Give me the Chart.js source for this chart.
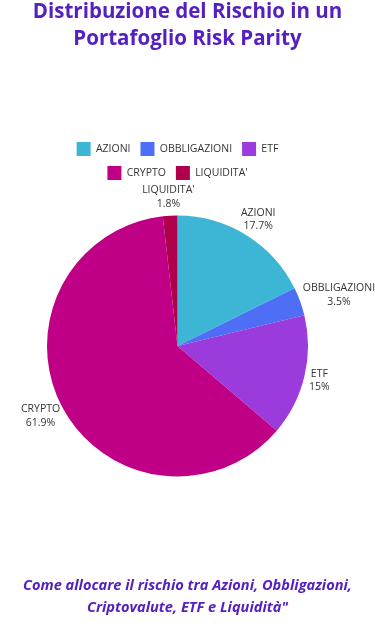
<!DOCTYPE html>
<html lang="it">
<head>
    <meta charset="UTF-8">
    <meta name="viewport" content="width=device-width, initial-scale=1.0">
    <title>Rischio Risk Parity</title>
    <script src="https://cdn.jsdelivr.net/npm/chart.js"></script>
    <style>
        html, body { margin: 0; padding: 0; background: #fff; }
        #wrap { position: relative; width: 375px; height: 637px; overflow: hidden; }
        #chartBox { position: absolute; left: 0; top: 0; width: 375px; height: 637px; }
        .heading {
            position: absolute; left: 0; width: 375px; margin: 0;
            text-align: center; color: #5420c0; font-family: 'Open Sans', sans-serif; font-weight: bold;
        }
        #title { top: -3px; font-size: 20.5px; line-height: 27px; }
        #subtitle { top: 573px; font-size: 14.6px; line-height: 22px; font-style: italic; }
    </style>
</head>
<body>
    <div id="wrap">
        <div id="chartBox"><canvas id="riskChart"></canvas></div>
        <h1 id="title" class="heading">Distribuzione del Rischio in un<br>Portafoglio Risk Parity</h1>
        <p id="subtitle" class="heading">Come allocare il rischio tra Azioni, Obbligazioni,<br>Criptovalute, ETF e Liquidità"</p>
    </div>

    <script>
        const categories = ['AZIONI', 'OBBLIGAZIONI', 'ETF', 'CRYPTO', "LIQUIDITA'"];
        const riskShares = [17.7, 3.5, 15, 61.9, 1.8];
        const sliceColors = ['#3db5d5', '#4d6ef5', '#9b3bdc', '#bf0087', '#b0004c'];

        // labels outside each slice, like datalabels anchor/align 'end'
        const outsideLabels = {
            id: 'outsideLabels',
            afterDatasetsDraw(chart) {
                const ctx = chart.ctx;
                const meta = chart.getDatasetMeta(0);
                ctx.save();
                ctx.font = '10.5px "Open Sans", sans-serif';
                ctx.fillStyle = '#333';
                ctx.textAlign = 'center';
                ctx.textBaseline = 'middle';
                const lineH = 13.5;
                meta.data.forEach((arc, i) => {
                    const p = arc.getProps(['x', 'y', 'startAngle', 'endAngle', 'outerRadius'], true);
                    const mid = (p.startAngle + p.endAngle) / 2;
                    const dx = Math.cos(mid), dy = Math.sin(mid);
                    const lines = [categories[i], riskShares[i] + '%'];
                    const w = Math.max(...lines.map(t => ctx.measureText(t).width));
                    const h = lines.length * lineH;
                    const off = p.outerRadius + 5;
                    const cx = p.x + dx * off + dx * w / 2;
                    const cy = p.y + dy * off + dy * h / 2;
                    lines.forEach((t, k) => {
                        ctx.fillText(t, cx, cy - h / 2 + lineH / 2 + k * lineH);
                    });
                });
                ctx.restore();
            }
        };

        new Chart(document.getElementById('riskChart'), {
            type: 'pie',
            data: {
                labels: categories,
                datasets: [{
                    data: riskShares,
                    backgroundColor: sliceColors,
                    borderWidth: 0
                }]
            },
            options: {
                responsive: true,
                maintainAspectRatio: false,
                animation: false,
                layout: { padding: { left: 47, right: 67, top: 132, bottom: 135 } },
                plugins: {
                    legend: {
                        position: 'top',
                        labels: {
                            color: '#333',
                            boxWidth: 14,
                            boxHeight: 14,
                            padding: 10,
                            font: { family: 'Open Sans', size: 10.5 }
                        }
                    },
                    tooltip: { enabled: false }
                }
            },
            plugins: [outsideLabels]
        });
    </script>
</body>
</html>
